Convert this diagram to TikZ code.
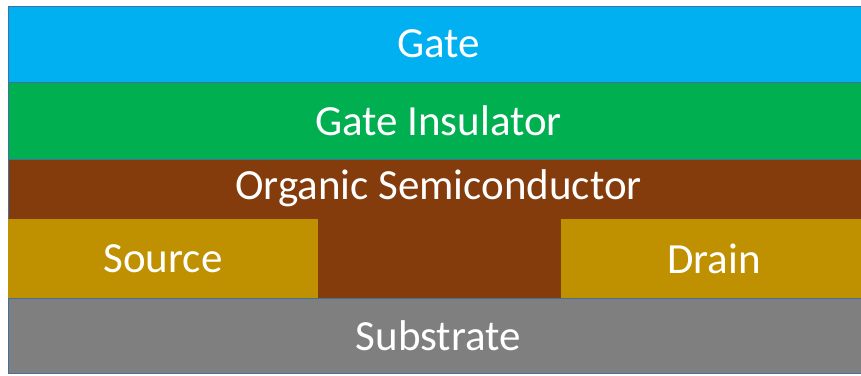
\documentclass[tikz,border=0pt]{standalone}
\usepackage{fontspec}
\setmainfont{Carlito}
\usepackage{xcolor}
\definecolor{gateblue}{HTML}{00B0F0}
\definecolor{insgreen}{HTML}{00B050}
\definecolor{semibrown}{HTML}{843C0C}
\definecolor{contactgold}{HTML}{BF9000}
\definecolor{subgray}{HTML}{7F7F7F}
\definecolor{edgeblue}{HTML}{41719C}
\tikzset{
  layer/.style={rectangle, draw=edgeblue, line width=0.8pt, inner sep=0pt, outer sep=0pt},
  contact/.style={rectangle, fill=contactgold, inner sep=0pt, outer sep=0pt},
  lbl/.style={text=white, font=\fontsize{43}{48}\selectfont}
}
\begin{document}
\begin{tikzpicture}[x=1pt,y=-1pt]
		\useasboundingbox (0,0) rectangle (861,375);
		\node[layer, fill=gateblue, minimum width=853pt, minimum height=76pt] (gate) at (434.5,44) {};
		\node[layer, fill=insgreen, minimum width=853pt, minimum height=77pt] (ins) at (434.5,120.5) {};
		\node[layer, fill=semibrown, minimum width=853pt, minimum height=139pt] (semi) at (434.5,228.5) {};
		\node[contact, minimum width=310pt, minimum height=79pt] (source) at (163,258.5) {};
		\node[contact, minimum width=300pt, minimum height=79pt] (drain) at (711,258.5) {};
		\node[layer, fill=subgray, minimum width=853pt, minimum height=75pt] (sub) at (434.5,335.5) {};
		\node[lbl] at ([xshift=4pt]gate) {Gate};
		\node[lbl] at ([xshift=4pt]ins) {Gate Insulator};
		\node[lbl] at (438.5,188) {Organic Semiconductor};
		\node[lbl] at (source) {Source};
		\node[lbl] at ([xshift=3pt]drain) {Drain};
		\node[lbl] at ([xshift=4pt]sub) {Substrate};
		\end{tikzpicture}
\end{document}
